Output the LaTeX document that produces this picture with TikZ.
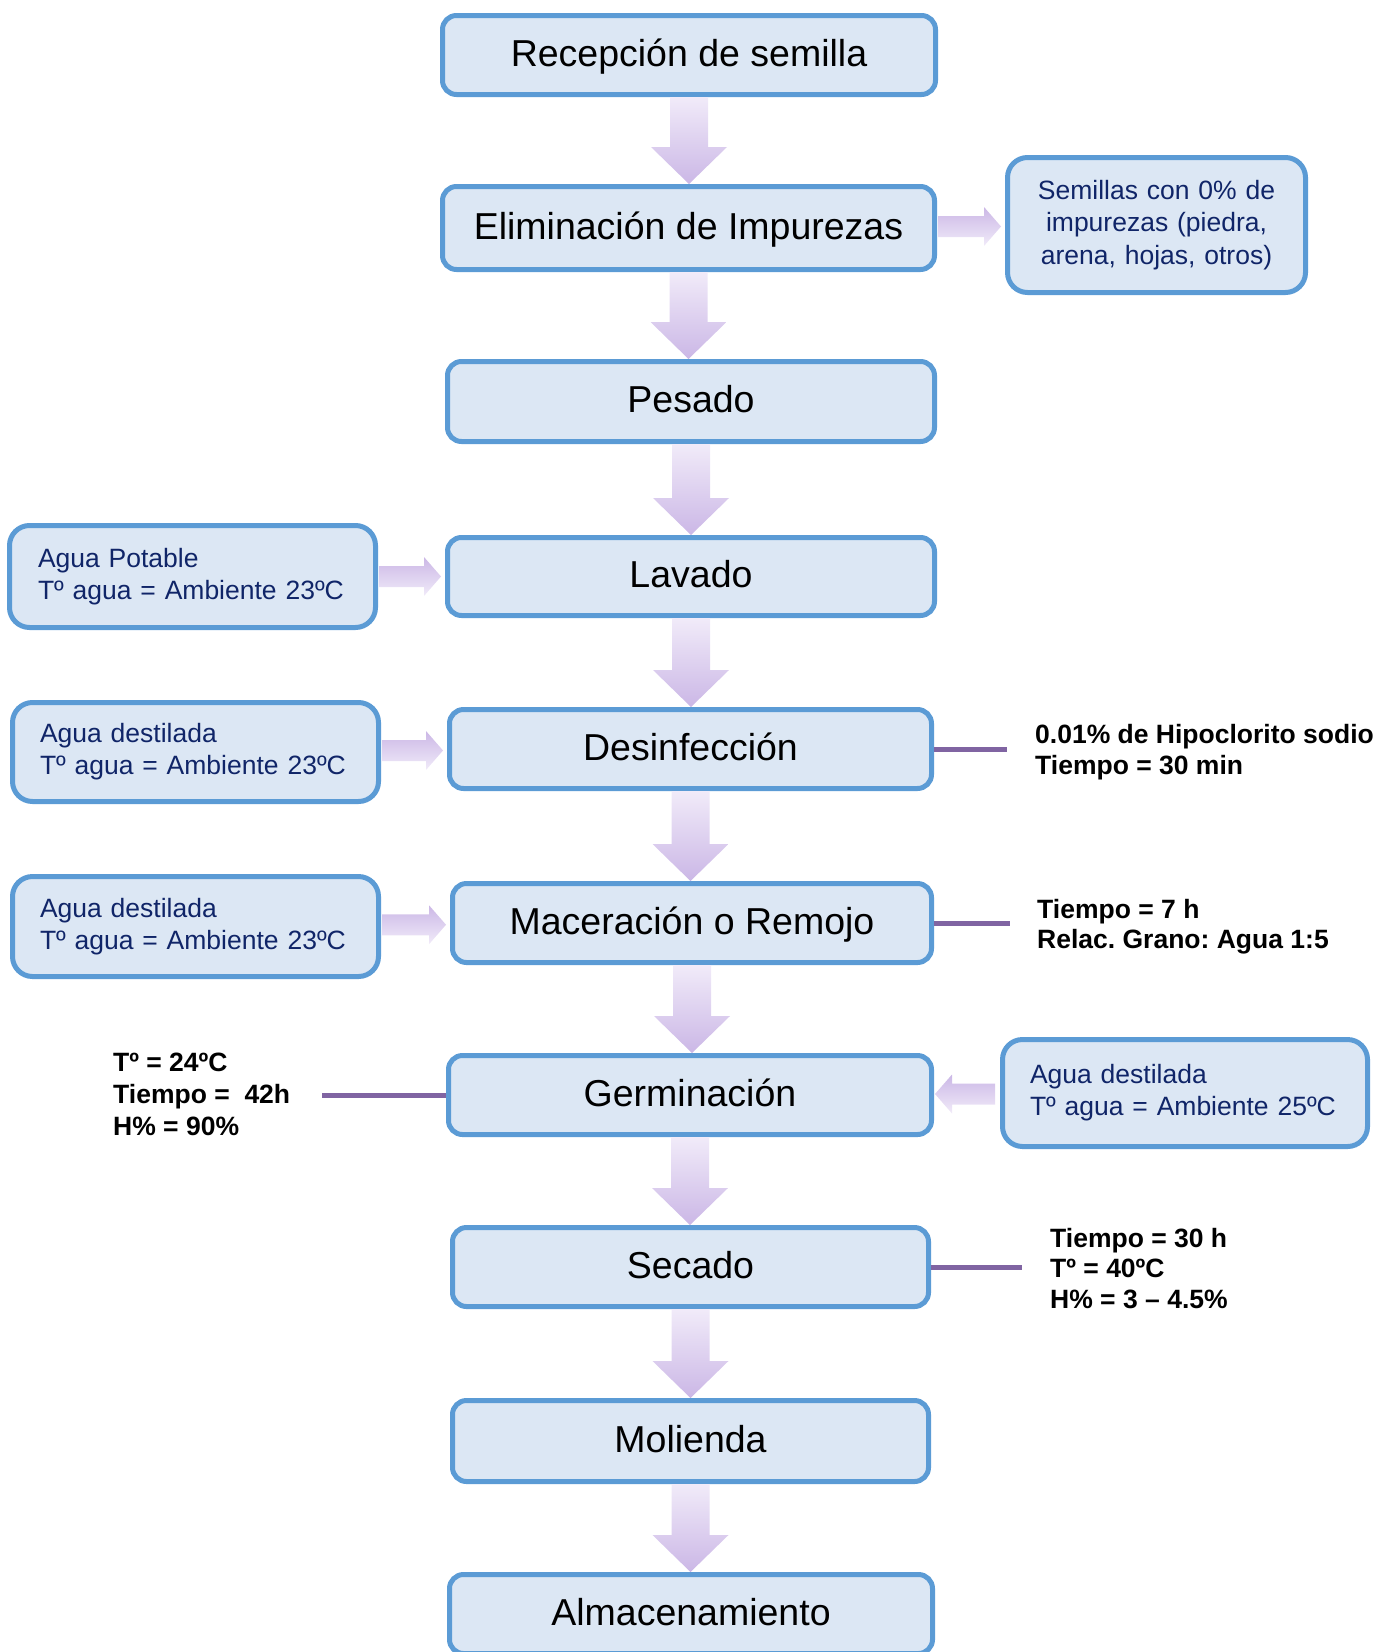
\documentclass[tikz,border=0pt]{standalone}
\usepackage{fontspec}
\setmainfont{Liberation Sans}
\usetikzlibrary{calc}
\frenchspacing
\definecolor{boxfill}{RGB}{220,231,244}
\definecolor{boxline}{RGB}{91,155,213}
\definecolor{navy}{RGB}{16,37,104}
\definecolor{arrowlight}{RGB}{241,235,249}
\definecolor{arrowdark}{RGB}{203,183,230}
\definecolor{lineprp}{RGB}{128,100,162}
\newcommand\flowdown[2]{%
  \shade[top color=arrowlight, bottom color=arrowdark]
    let \p1=(#1.south), \p2=(#2.north) in
    (\x1-19pt,\y1) -- (\x1+19pt,\y1) -- (\x1+19pt,\y2+37pt) -- (\x1+38pt,\y2+37pt)
    -- (\x1,\y2) -- (\x1-38pt,\y2+37pt) -- (\x1-19pt,\y2+37pt) -- cycle;}
\newcommand\flowright[2]{%
  \shade[top color=arrowdark, bottom color=arrowlight]
    let \p1=(#1.east), \p2=(#2.west), \n1={(\y1+\y2)/2} in
    (\x1+1pt,\n1+10.5pt) -- (\x2-21pt,\n1+10.5pt) -- (\x2-21pt,\n1+19.5pt) -- (\x2-4pt,\n1)
    -- (\x2-21pt,\n1-19.5pt) -- (\x2-21pt,\n1-10.5pt) -- (\x1+1pt,\n1-10.5pt) -- cycle;}
\newcommand\flowleft[2]{%
  \shade[top color=arrowdark, bottom color=arrowlight]
    let \p1=(#1.west), \p2=(#2.east), \n1={(\y1+\y2)/2} in
    (\x1-5pt,\n1+10.5pt) -- (\x2+18pt,\n1+10.5pt) -- (\x2+18pt,\n1+19.5pt) -- (\x2+1pt,\n1)
    -- (\x2+18pt,\n1-19.5pt) -- (\x2+18pt,\n1-10.5pt) -- (\x1-5pt,\n1-10.5pt) -- cycle;}
\begin{document}
\begin{tikzpicture}[x=1pt,y=-1pt,
  mainbox/.style={draw=boxline, fill=boxfill, line width=5pt, rounded corners=14pt,
    inner sep=0pt, text height=26.5pt, text depth=4pt,
    font=\fontsize{37.5}{44}\selectfont, text=black},
  sidebox/.style={draw=boxline, fill=boxfill, line width=5pt, rounded corners=20pt,
    inner sep=0pt, font=\fontsize{26.5}{32}\selectfont, text=navy},
  note/.style={font=\bfseries\fontsize{26.5}{31}\selectfont, align=left, inner sep=0pt,
    anchor=north west, text=black},
  link/.style={draw=lineprp, line width=5pt}]
\useasboundingbox (0,0) rectangle (1392,1652);
\clip (0,0) rectangle (1392,1652);
% main column
\node[mainbox, minimum width=493pt, minimum height=79pt] (rec) at (689,55) {Recepción de semilla};
\node[mainbox, minimum width=492pt, minimum height=83pt] (elim) at (688.5,228) {Eliminación de Impurezas};
\node[mainbox, minimum width=487pt, minimum height=80pt] (pes) at (691,401.5) {Pesado};
\node[mainbox, minimum width=487pt, minimum height=78pt] (lav) at (691,576.5) {Lavado};
\node[mainbox, minimum width=482pt, minimum height=79pt] (des) at (690.5,749) {Desinfección};
\node[mainbox, minimum width=479pt, minimum height=79pt] (mac) at (692,923) {Maceración o Remojo};
\node[mainbox, minimum width=483pt, minimum height=79pt] (ger) at (690,1095) {Germinación};
\node[mainbox, minimum width=476pt, minimum height=79pt] (sec) at (690.5,1267) {Secado};
\node[mainbox, minimum width=476pt, minimum height=81pt] (mol) at (690.5,1441) {Molienda};
\node[mainbox, minimum width=483pt, minimum height=79pt] (alm) at (691,1614) {Almacenamiento};
% side boxes
\node[sidebox, minimum width=298pt, minimum height=135pt, text width=290pt, align=center,
  font=\fontsize{26.5}{32.5}\selectfont] (sem) at (1156.5,225)
  {Semillas con 0\% de\\impurezas (piedra,\\arena, hojas, otros)};
\node[sidebox, minimum width=366pt, minimum height=102pt, text width=309pt, align=left] (ap) at (192.5,576.5)
  {Agua Potable\\Tº agua = Ambiente 23ºC};
\node[sidebox, minimum width=366pt, minimum height=99pt, text width=311pt, align=left] (ad1) at (195.5,752)
  {Agua destilada\\Tº agua = Ambiente 23ºC};
\node[sidebox, minimum width=366pt, minimum height=100pt, text width=311pt, align=left] (ad2) at (195.5,926.5)
  {Agua destilada\\Tº agua = Ambiente 23ºC};
\node[sidebox, minimum width=365pt, minimum height=107pt, text width=310pt, align=left] (agr) at (1185,1093)
  {Agua destilada\\Tº agua = Ambiente 25ºC};
% notes
\node[note] (n1) at (1035,724) {0.01\% de Hipoclorito sodio\\Tiempo = 30 min};
\node[note, font=\bfseries\fontsize{26.5}{30}\selectfont] (n2) at (1037,899) {Tiempo = 7 h\\Relac. Grano: Agua 1:5};
\node[note, font=\bfseries\fontsize{26.5}{32}\selectfont] (n3) at (113,1053) {Tº = 24ºC\\Tiempo = \ 42h\\H\% = 90\%};
\node[note, font=\bfseries\fontsize{26.5}{30.5}\selectfont] (n4) at (1050,1228) {Tiempo = 30 h\\Tº = 40ºC\\H\% = 3 – 4.5\%};
% link end points
\coordinate (desE) at (1007,749);
\coordinate (macE) at (1010,923);
\coordinate (gerW) at (322,1095);
\coordinate (secE) at (1022,1267);
\draw[link] (des.east) -- (desE);
\draw[link] (mac.east) -- (macE);
\draw[link] (ger.west) -- (gerW);
\draw[link] (sec.east) -- (secE);
% block arrows
\flowdown{rec}{elim}
\flowdown{elim}{pes}
\flowdown{pes}{lav}
\flowdown{lav}{des}
\flowdown{des}{mac}
\flowdown{mac}{ger}
\flowdown{ger}{sec}
\flowdown{sec}{mol}
\flowdown{mol}{alm}
\flowright{elim}{sem}
\flowright{ap}{lav}
\flowright{ad1}{des}
\flowright{ad2}{mac}
\flowleft{agr}{ger}
\end{tikzpicture}
\end{document}
